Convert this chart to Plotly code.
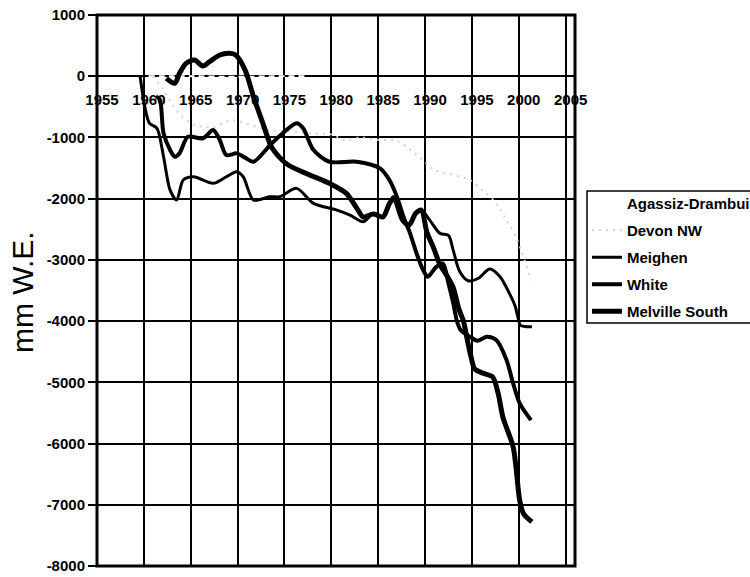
import plotly.graph_objects as go

# ---------------- data ----------------
agassiz_x = [1960.5, 1965.0, 1970.0, 1975.0, 1977.5]
agassiz_y = [0, 0, -10, 0, 0]

devon_x = [1961.0, 1962.0, 1963.0, 1964.0, 1965.5, 1967.4, 1969.5, 1972.0, 1973.4, 1975.5,
           1977.7, 1980.0, 1981.6, 1983.0, 1985.0, 1986.9, 1988.0, 1990.0, 1991.0, 1993.0,
           1994.8, 1996.0, 1997.3, 1998.5, 1999.7, 2000.6, 2001.3]
devon_y = [0, -200, -450, -650, -800, -830, -720, -825, -880, -900,
           -930, -950, -1050, -1000, -1040, -1050, -1150, -1400, -1530, -1610,
           -1700, -1850, -2023, -2300, -2623, -3000, -3330]

meighen_x = [1959.6, 1960.1, 1960.6, 1961.4, 1962.1, 1962.8, 1963.5, 1964.2, 1965.3, 1967.4,
             1968.8, 1969.9, 1970.6, 1971.7, 1973.4, 1974.5, 1976.3, 1978.1, 1980.6, 1982.0,
             1983.4, 1984.5, 1985.5, 1986.2, 1986.6, 1987.6, 1988.3, 1989.0, 1989.6, 1990.5,
             1991.6, 1992.5, 1993.0, 1993.7, 1994.6, 1995.7, 1996.9, 1998.0, 1999.0, 1999.6,
             1999.9, 2000.2, 2001.4]
meighen_y = [0, -498, -770, -851, -1315, -1860, -2023, -1696, -1642, -1750,
             -1642, -1560, -1642, -2023, -1969, -1969, -1832, -2077, -2186, -2268,
             -2377, -2240, -2295, -2077, -1969, -2350, -2430, -2240, -2186, -2350,
             -2567, -2600, -2840, -3190, -3340, -3300, -3150, -3276, -3547, -3750,
             -3929, -4070, -4093]

white_x = [1961.3, 1961.7, 1962.1, 1962.8, 1963.3, 1963.8, 1964.7, 1966.3, 1967.4, 1968.1,
           1968.8, 1969.9, 1970.8, 1971.7, 1973.5, 1974.6, 1976.3, 1977.0, 1978.1, 1979.8,
           1982.7, 1985.2, 1986.2, 1987.0, 1987.7, 1988.4, 1989.1, 1989.8, 1990.3, 1991.2,
           1991.9, 1992.5, 1993.0, 1993.4, 1993.8, 1994.8, 1995.6, 1996.6, 1997.6, 1998.7,
           1999.4, 2000.1, 2001.3]
white_y = [-330, -380, -933, -1206, -1315, -1260, -989, -1015, -879, -1042,
           -1288, -1260, -1330, -1397, -1120, -960, -770, -851, -1206, -1397,
           -1397, -1505, -1696, -1969, -2295, -2567, -2894, -3167, -3276, -3113,
           -3058, -3384, -3700, -4000, -4147, -4256, -4320, -4256, -4310, -4637,
           -5018, -5345, -5617]

melville_x = [1962.4, 1963.3, 1963.8, 1964.5, 1965.4, 1966.3, 1967.0, 1968.1, 1969.1, 1969.8,
              1970.8, 1971.7, 1972.7, 1973.6, 1974.5, 1975.4, 1977.5, 1979.8, 1981.6, 1982.7,
              1983.4, 1984.5, 1985.5, 1986.2, 1986.7, 1987.6, 1988.3, 1989.0, 1989.6, 1990.2,
              1990.9, 1991.6, 1992.3, 1993.0, 1993.6, 1994.1, 1994.5, 1994.9, 1995.3, 1996.2,
              1997.2, 1997.8, 1998.3, 1999.4, 1999.7, 2000.1, 2000.5, 2001.4]
melville_y = [-35, -116, 47, 210, 265, 167, 237, 346, 374, 346,
              101, -335, -770, -1150, -1330, -1450, -1600, -1750, -1913, -2150,
              -2300, -2250, -2300, -2080, -1990, -2350, -2430, -2240, -2186, -2550,
              -2800, -3080, -3250, -3450, -3800, -4000, -4300, -4580, -4780, -4853,
              -4908, -5181, -5563, -6054, -6380, -6928, -7141, -7280]

x_ticks = [1955, 1960, 1965, 1970, 1975, 1980, 1985, 1990, 1995, 2000, 2005]
y_ticks = [1000, 0, -1000, -2000, -3000, -4000, -5000, -6000, -7000, -8000]

# ---------------- figure ----------------
FONT = "Arial, Liberation Sans, sans-serif"
fig = go.Figure()

series = [
    ("Agassiz-Drambui", agassiz_x, agassiz_y, dict(color="white", width=2, dash="6px,4px")),
    ("Devon NW", devon_x, devon_y, dict(color="#d2d2d2", width=2, dash="2px,5px")),
    ("Meighen", meighen_x, meighen_y, dict(color="black", width=3)),
    ("White", white_x, white_y, dict(color="black", width=4)),
    ("Melville South", melville_x, melville_y, dict(color="black", width=5)),
]
for name, xs, ys, ln in series:
    ln = dict(ln)
    ln.update(shape="spline", smoothing=0.8)
    fig.add_trace(go.Scatter(x=xs, y=ys, mode="lines", name=name, line=ln,
                             legendgroup=name))

fig.update_layout(
    width=750, height=577,
    margin=dict(l=97, r=175, t=15, b=11, autoexpand=False),
    paper_bgcolor="white", plot_bgcolor="white",
    font=dict(family=FONT, size=15, color="black"),
    showlegend=True,
    legend=dict(
        x=1.025, y=(566 - 187) / 551, xanchor="left", yanchor="top",
        borderwidth=0, bgcolor="rgba(0,0,0,0)",
        font=dict(family=FONT, size=15, color="black", weight="bold"),
        tracegroupgap=4.5, traceorder="grouped",
        itemwidth=30,
    ),
    xaxis=dict(
        range=[1955, 2006], tickmode="array", tickvals=x_ticks,
        ticktext=[str(v) for v in x_ticks],
        showgrid=True, gridcolor="black", gridwidth=1.5,
        zeroline=False, showline=False, ticks="",
        anchor="free", position=8000 / 9000,
        ticklabelstandoff=13, ticklabelshift=5,
        tickfont=dict(family=FONT, size=15, color="black", weight="bold"),
    ),
    yaxis=dict(
        range=[-8000, 1000], tickmode="array", tickvals=y_ticks,
        ticktext=[str(v) for v in y_ticks],
        showgrid=True, gridcolor="black", gridwidth=1.5,
        zeroline=False, showline=False,
        ticks="outside", ticklen=8, tickwidth=1.5, tickcolor="black",
        tickfont=dict(family=FONT, size=15, color="black", weight="bold"),
    ),
)

# plot frame
fig.add_shape(type="rect", xref="x domain", yref="y domain", x0=0, x1=1, y0=0, y1=1,
              line=dict(color="black", width=3), fillcolor="rgba(0,0,0,0)", layer="above")

# legend frame
fig.add_shape(type="rect", xref="paper", yref="paper",
              x0=(587 - 97) / 478, x1=(765 - 97) / 478,
              y0=(566 - 323) / 551, y1=(566 - 191) / 551,
              line=dict(color="black", width=1.5), fillcolor="rgba(0,0,0,0)", layer="above")

# y axis title
fig.add_annotation(text="mm W.E.", xref="paper", yref="paper",
                   x=(22 - 97) / 478, y=(566 - 292) / 551, xanchor="center", yanchor="middle",
                   textangle=-90, showarrow=False,
                   font=dict(family=FONT, size=30, color="black"))

fig.write_html("out.html")
